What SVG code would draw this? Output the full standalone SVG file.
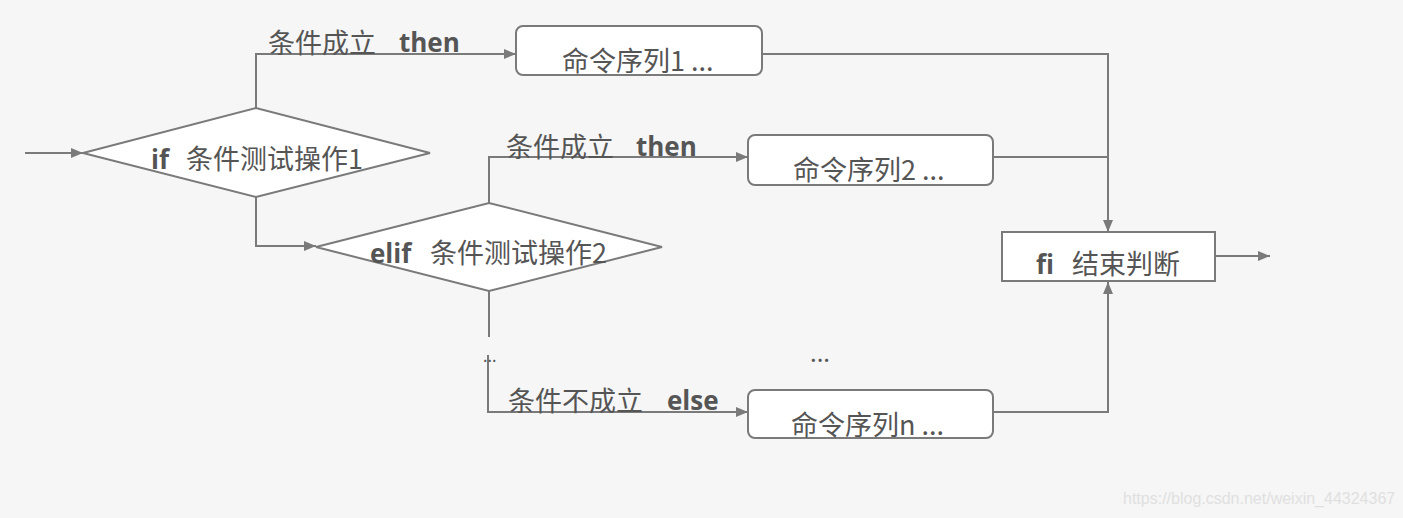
<svg xmlns="http://www.w3.org/2000/svg" width="1403" height="518" viewBox="0 0 1403 518">
<style>
.ln{fill:none;stroke:#7a7a7a;stroke-width:2}
.shape{fill:#ffffff;stroke:#7a7a7a;stroke-width:2}
.t{font-family:"Noto Sans CJK SC","Noto Sans",sans-serif;font-size:27px;fill:#555555}
.b{font-family:"Open Sans","Noto Sans",sans-serif;font-weight:bold;font-size:26px;fill:#555555}
.wm{font-family:"Liberation Sans",Arial,sans-serif;font-size:16px;fill:#e0e0e0}
</style>
<defs>
<marker id="arr" markerWidth="12" markerHeight="10" refX="12" refY="5" orient="auto" markerUnits="userSpaceOnUse">
<path d="M0,0 L12,5 L0,10 Z" fill="#7a7a7a"/>
</marker>
</defs>
<rect x="0" y="0" width="1403" height="518" fill="#f6f6f6"/>
<g id="connectors">
<path class="ln" d="M25,153 L83,153" marker-end="url(#arr)"/>
<path class="ln" d="M256,108 L256,54 L516,54" marker-end="url(#arr)"/>
<path class="ln" d="M256,197 L256,246 L316,246" marker-end="url(#arr)"/>
<path class="ln" d="M489,203 L489,157 L748,157" marker-end="url(#arr)"/>
<path class="ln" d="M489,291 L489,337"/>
<path class="ln" d="M488,355 L488,412 L748,412" marker-end="url(#arr)"/>
<path class="ln" d="M762,54 L1108,54 L1108,232" marker-end="url(#arr)"/>
<path class="ln" d="M993,157 L1108,157"/>
<path class="ln" d="M993,412 L1108,412 L1108,282" marker-end="url(#arr)"/>
<path class="ln" d="M1215,256 L1270,256" marker-end="url(#arr)"/>
<text class="t" x="268" y="53">条件成立</text>
<text class="b" x="399" y="52">then</text>
<text class="t" x="506" y="157">条件成立</text>
<text class="b" x="636" y="156">then</text>
<text class="t" x="508" y="411">条件不成立</text>
<text class="b" x="667" y="410">else</text>
<text class="t" x="483" y="362" style="font-size:16px">...</text>
<text class="t" x="810" y="362" style="font-size:24px">...</text>
</g>
<g id="if">
<polygon class="shape" points="83,153 256,108 430,153 256,197"/>
<text class="b" x="151" y="169">if</text>
<text class="t" x="186" y="169">条件测试操作1</text>
</g>
<g id="elif">
<polygon class="shape" points="316,247 489,203 662,247 489,291"/>
<text class="b" x="370" y="263">elif</text>
<text class="t" x="430" y="263">条件测试操作2</text>
</g>
<g id="cmd1">
<rect class="shape" x="516" y="26" width="246" height="49" rx="7"/>
<text class="t" x="562" y="71">命令序列1 ...</text>
</g>
<g id="cmd2">
<rect class="shape" x="748" y="135" width="245" height="50" rx="7"/>
<text class="t" x="793" y="180">命令序列2 ...</text>
</g>
<g id="cmdn">
<rect class="shape" x="748" y="390" width="245" height="48" rx="7"/>
<text class="t" x="791" y="435">命令序列n ...</text>
</g>
<g id="fi">
<rect class="shape" x="1002" y="232" width="213" height="49"/>
<text class="b" x="1036" y="274">fi</text>
<text class="t" x="1072" y="274">结束判断</text>
</g>
<text class="wm" x="1123" y="504">https://blog.csdn.net/weixin_44324367</text>
</svg>
